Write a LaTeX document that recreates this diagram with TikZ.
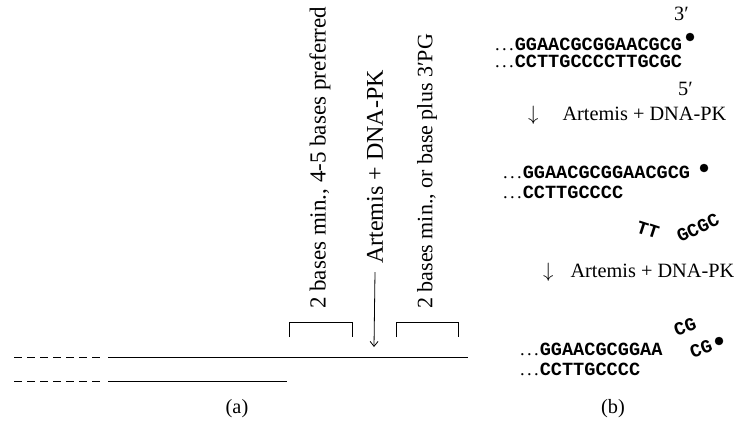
\documentclass[tikz,border=0pt]{standalone}
\usepackage{fontspec}
\setmainfont{Liberation Serif}
\setmonofont{Liberation Mono}
\usetikzlibrary{arrows.meta}
\tikzset{
  lbl/.style={inner sep=0pt, font=\fontsize{20.3}{23}\selectfont},
  vlbl/.style={inner sep=0pt, rotate=90, anchor=west, font=\fontsize{23}{26}\selectfont},
  seq/.style={inner sep=0pt, anchor=base west, font=\fontsize{18.6}{21}\selectfont},
  strand/.style={black, line width=1pt},
  brk/.style={black, line width=0.8pt},
}
\newcommand{\bases}[1]{.\kern2.3pt.\kern2.3pt.\kern1pt\texttt{\bfseries #1}}
\begin{document}
\begin{tikzpicture}[x=1pt, y=-1pt]
				\useasboundingbox (0,0) rectangle (739,421);
				% (a) the two strands
				\draw[strand, dash pattern=on 8pt off 5pt] (14,357) -- (101,357);
				\draw[strand] (108,357) -- (468,357);
				\draw[strand, dash pattern=on 8pt off 5pt] (14,381) -- (101,381);
				\draw[strand] (108,381) -- (287,381);
				\draw[brk] (289,337) -- (289,322) -- (352,322) -- (352,337);
				\draw[brk] (396,337) -- (396,322) -- (458,322) -- (458,337);
				\node[vlbl] (minA) at (320,309) {2 bases min., 4-5 bases preferred};
				\node[vlbl, font=\fontsize{24}{27}\selectfont] (artA) at (375,264) {Artemis + DNA-PK};
				\node[vlbl, font=\fontsize{22}{25}\selectfont] (minB) at (427,309) {2 bases min., or base plus 3′PG};
				\coordinate (cutA) at (374,347);
				\draw[black, line width=0.8pt, -{Straight Barb[length=5pt, width=8pt]}] ([yshift=-8pt]artA.west) -- (cutA);
				\node[lbl, anchor=base] (capA) at (237,413) {(a)};
				% (b) the three stages
				\node[lbl, anchor=base west] (end3) at (674,20) {3′};
				\node[seq] (topA) at (495,50) {\bases{GGAACGCGGAACGCG}};
				\node[seq] (botA) at (495,67) {\bases{CCTTGCCCCTTGCGC}};
				\filldraw[black] (690,37) circle (4pt);
				\node[lbl, anchor=base west] (end5) at (678,95) {5′};
				\node[lbl, anchor=base west] (stepA) at (528,120) {$\downarrow$\hspace{24pt}Artemis + DNA-PK};
				\node[seq] (topB) at (503,178) {\bases{GGAACGCGGAACGCG}};
				\node[seq] (botB) at (503,198) {\bases{CCTTGCCCC}};
				\filldraw[black] (704,168) circle (4pt);
				\node[seq, anchor=center, rotate=-18] (cutT) at (648,230) {\texttt{\bfseries TT}};
				\node[seq, anchor=center, rotate=25] (cutG) at (698,228) {\texttt{\bfseries GCGC}};
				\node[lbl, anchor=base west] (stepB) at (543,277) {$\downarrow$\hspace{17pt}Artemis + DNA-PK};
				\node[seq, anchor=center, rotate=20] (cutC) at (685,327) {\texttt{\bfseries CG}};
				\node[seq, anchor=center, rotate=20] (cutD) at (701,349) {\texttt{\bfseries CG}};
				\filldraw[black] (719,341) circle (4pt);
				\node[seq] (topC) at (520,355) {\bases{GGAACGCGGAA}};
				\node[seq] (botC) at (520,375) {\bases{CCTTGCCCC}};
				\node[lbl, anchor=base] (capB) at (613,413) {(b)};
\end{tikzpicture}
\end{document}
